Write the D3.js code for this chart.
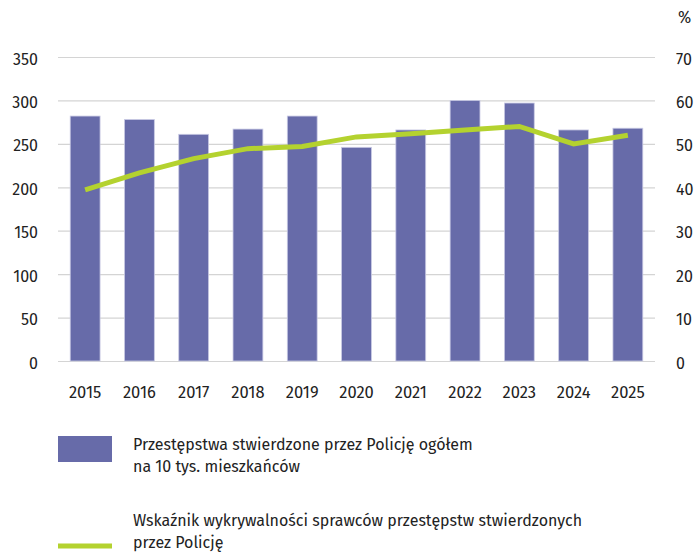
<!DOCTYPE html>
<html>
<head>
<meta charset="utf-8">
<script src="https://cdn.jsdelivr.net/npm/d3@7"></script>
<style>
  body { margin: 0; background: #fff; }
  text { font-family: "Fira Sans", "Noto Sans", sans-serif; fill: #222; }
</style>
</head>
<body>
<div id="chart"></div>
<script>
// data
var years = ["2015","2016","2017","2018","2019","2020","2021","2022","2023","2024","2025"];
var crimes = [282, 278, 261, 267, 282, 246, 266, 300, 297, 266, 268];
var detection = [39.4, 43.3, 46.6, 48.9, 49.4, 51.6, 52.3, 53.2, 54.0, 50.0, 52.0];
var leftTicks = [0, 50, 100, 150, 200, 250, 300, 350];
var rightTicks = [0, 10, 20, 30, 40, 50, 60, 70];
var legendItems = [
  ["Przestępstwa stwierdzone przez Policję ogółem", "na 10 tys. mieszkańców"],
  ["Wskaźnik wykrywalności sprawców przestępstw stwierdzonych", "przez Policję"]
];

var width = 695, height = 556;
var margin = {left: 58, right: 40, top: 57, bottom: 195};

var svg = d3.select("#chart")
    .append("svg")
    .attr("width", width)
    .attr("height", height);

var x = d3.scaleBand()
    .domain(years)
    .range([margin.left, width - margin.right])
    .paddingInner(0.45)
    .paddingOuter(0.225);

var yL = d3.scaleLinear().domain([0, 350]).range([height - margin.bottom, margin.top]);
var yR = d3.scaleLinear().domain([0, 70]).range([height - margin.bottom, margin.top]);

// gridlines
svg.append("g")
    .selectAll("line")
    .data(leftTicks)
    .enter().append("line")
    .attr("x1", margin.left)
    .attr("x2", width - margin.right)
    .attr("y1", function(d) { return yL(d) + 0.5; })
    .attr("y2", function(d) { return yL(d) + 0.5; })
    .attr("stroke", "#d4d4d4")
    .attr("stroke-width", 1.2);

// bars
svg.append("g")
    .selectAll("rect")
    .data(crimes)
    .enter().append("rect")
    .attr("x", function(d, i) { return x(years[i]); })
    .attr("width", x.bandwidth())
    .attr("y", function(d) { return yL(d); })
    .attr("height", function(d) { return yL(0) - yL(d); })
    .attr("fill", "#676ba9")
    .attr("stroke", "#c9cae4")
    .attr("stroke-width", 0.8);

// line
var line = d3.line()
    .x(function(d, i) { return x(years[i]) + x.bandwidth() / 2; })
    .y(function(d) { return yR(d); });

svg.append("path")
    .datum(detection)
    .attr("d", line)
    .attr("fill", "none")
    .attr("stroke", "#b4d22f")
    .attr("stroke-width", 5);

// left axis
var axL = d3.axisLeft(yL).tickValues(leftTicks).tickSize(0).tickPadding(0);
svg.append("g")
    .attr("transform", "translate(38,2)")
    .call(axL)
    .call(function(g) { g.select(".domain").remove(); })
    .selectAll("text")
    .style("font-size", "16px")
    .attr("fill", "#222");

// right axis
var axR = d3.axisRight(yR).tickValues(rightTicks).tickSize(0).tickPadding(0);
svg.append("g")
    .attr("transform", "translate(676,2)")
    .call(axR)
    .call(function(g) { g.select(".domain").remove(); })
    .selectAll("text")
    .style("font-size", "16px")
    .attr("fill", "#222");

svg.append("text")
    .attr("x", 678)
    .attr("y", 23)
    .style("font-size", "16px")
    .text("%");

// x axis
var axX = d3.axisBottom(x).tickSize(0).tickPadding(0);
svg.append("g")
    .attr("transform", "translate(0,386)")
    .call(axX)
    .call(function(g) { g.select(".domain").remove(); })
    .selectAll("text")
    .style("font-size", "16.5px")
    .attr("fill", "#222");

// legend
var lg = svg.append("g");
lg.append("rect")
    .attr("x", 58).attr("y", 436)
    .attr("width", 54).attr("height", 26)
    .attr("fill", "#676ba9");
lg.append("line")
    .attr("x1", 58).attr("x2", 112)
    .attr("y1", 546).attr("y2", 546)
    .attr("stroke", "#b4d22f")
    .attr("stroke-width", 5);

var legendY = [450, 526];
legendItems.forEach(function(item, k) {
    item.forEach(function(t, j) {
        lg.append("text")
            .attr("x", 133)
            .attr("y", legendY[k] + j * 22)
            .style("font-size", "16px")
            .text(t);
    });
});
</script>
</body>
</html>
